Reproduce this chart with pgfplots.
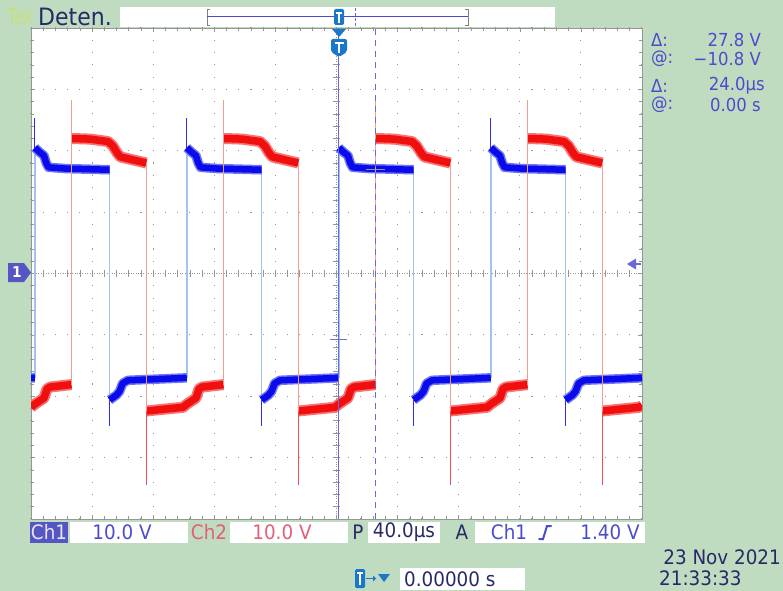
\documentclass[border=0pt]{standalone}
\usepackage{fontspec}
\setmainfont{DejaVu Sans}[FakeStretch=0.92]
\usepackage{graphicx}
\usepackage{pgfplots}
\usepackage{pgfplotstable}
\pgfplotsset{compat=1.18}
\definecolor{scrgreen}{RGB}{192,220,192}
\definecolor{gratgray}{RGB}{150,150,150}
\definecolor{tekyellow}{RGB}{200,224,120}
\definecolor{navy}{RGB}{40,40,105}
\definecolor{readblue}{RGB}{75,75,205}
\definecolor{chonebox}{RGB}{85,85,195}
\definecolor{chtwo}{RGB}{225,95,120}
\definecolor{wblue}{RGB}{10,10,235}
\definecolor{wbluefr}{RGB}{110,120,245}
\definecolor{wblueedge}{RGB}{160,195,240}
\definecolor{wred}{RGB}{240,15,15}
\definecolor{wredfr}{RGB}{250,115,115}
\definecolor{wrededge}{RGB}{238,160,140}
\definecolor{cursorc}{RGB}{105,105,215}
\definecolor{trigblue}{RGB}{25,120,200}

% Ch1 (blue) noisy band: time in us, volts
\pgfplotstableread{
t v
-200 -17.0
-197.5 -17.0
-197.5 nan
-197.5 20.5
-194.5 19.8
-191.5 19.2
-190 18.0
-188.5 17.3
-177.5 17.1
-148.5 16.9
-148.5 nan
-148.5 -20.6
-144 -19.8
-142 -19.2
-140 -17.9
-136.5 -17.4
-98 -17.0
-98 nan
-98 20.5
-95 19.8
-92 19.2
-90.5 18.0
-89 17.3
-78 17.1
-49 16.9
-49 nan
-49 -20.6
-44.5 -19.8
-42.5 -19.2
-40.5 -17.9
-37 -17.4
1.5 -17.0
1.5 nan
1.5 20.5
4.5 19.8
7.5 19.2
9 18.0
10.5 17.3
21.5 17.1
50.5 16.9
50.5 nan
50.5 -20.6
55 -19.8
57 -19.2
59 -17.9
62.5 -17.4
101 -17.0
101 nan
101 20.5
104 19.8
107 19.2
108.5 18.0
110 17.3
121 17.1
150 16.9
150 nan
150 -20.6
154.5 -19.8
156.5 -19.2
158.5 -17.9
162 -17.4
200 -17.0
}\bluebandtab

% Ch1 edges (fast transitions, drawn faint)
\pgfplotstableread{
t v
-197.5 -17.0
-197.5 20.5
-197.5 nan
-148.5 16.9
-148.5 -20.6
-148.5 nan
-98 -17.0
-98 20.5
-98 nan
-49 16.9
-49 -20.6
-49 nan
1.5 -17.0
1.5 20.5
1.5 nan
50.5 16.9
50.5 -20.6
50.5 nan
101 -17.0
101 20.5
101 nan
150 16.9
150 -20.6
}\blueedgetab

% Ch1 overshoot spikes
\pgfplotstableread{
t v
-197.5 20.5
-197.5 25.3
-197.5 nan
-148.5 -20.6
-148.5 -24.8
-148.5 nan
-98 20.5
-98 25.3
-98 nan
-49 -20.6
-49 -24.8
-49 nan
1.5 20.5
1.5 25.3
1.5 nan
50.5 -20.6
50.5 -24.8
50.5 nan
101 20.5
101 25.3
101 nan
150 -20.6
150 -24.8
}\bluespiketab

% Ch2 (red) noisy band
\pgfplotstableread{
t v
-200 -21.8
-197 -21.2
-191.5 -20.3
-189.5 -18.8
-187.5 -18.5
-173.5 -18.1
-173.5 nan
-173.5 22.0
-161.5 21.9
-149.5 21.5
-146.5 20.8
-143.5 19.6
-141.5 19.0
-124.5 18.0
-124.5 nan
-124.5 -22.4
-112.5 -22.1
-100.5 -21.8
-97.5 -21.2
-92 -20.3
-90 -18.8
-88 -18.5
-74 -18.1
-74 nan
-74 22.0
-62 21.9
-50 21.5
-47 20.8
-44 19.6
-42 19.0
-25 18.0
-25 nan
-25 -22.4
-13 -22.1
-1 -21.8
2 -21.2
7.5 -20.3
9.5 -18.8
11.5 -18.5
25.5 -18.1
25.5 nan
25.5 22.0
37.5 21.9
49.5 21.5
52.5 20.8
55.5 19.6
57.5 19.0
74.5 18.0
74.5 nan
74.5 -22.4
86.5 -22.1
98.5 -21.8
101.5 -21.2
107 -20.3
109 -18.8
111 -18.5
125 -18.1
125 nan
125 22.0
137 21.9
149 21.5
152 20.8
155 19.6
157 19.0
174 18.0
174 nan
174 -22.4
186 -22.1
198 -21.8
200 -21.5
}\redbandtab

% Ch2 edges incl. positive overshoot
\pgfplotstableread{
t v
-173.5 -18.1
-173.5 28.3
-173.5 nan
-124.5 18.0
-124.5 -22.4
-124.5 nan
-74 -18.1
-74 28.3
-74 nan
-25 18.0
-25 -22.4
-25 nan
25.5 -18.1
25.5 28.3
25.5 nan
74.5 18.0
74.5 -22.4
74.5 nan
125 -18.1
125 28.3
125 nan
174 18.0
174 -22.4
}\rededgetab

% Ch2 negative overshoot spikes
\pgfplotstableread{
t v
-124.5 -22.4
-124.5 -34.4
-124.5 nan
-25 -22.4
-25 -34.4
-25 nan
74.5 -22.4
74.5 -34.4
74.5 nan
174 -22.4
174 -34.4
}\redspiketab

\begin{document}
\begin{tikzpicture}
\begin{scope}[x=1bp,y=-1bp]
  % screen background
  \fill[scrgreen] (0,0) rectangle (783,591);
  % top bar
  \fill[white] (120,7) rectangle (555,27);
  \node[anchor=west, inner sep=0pt, text=tekyellow, font=\fontsize{22}{22}\selectfont] at (7,16.5) {\scalebox{0.78}[1]{Tek}};
  \node[anchor=west, inner sep=0pt, text=navy, font=\fontsize{24}{24}\selectfont] at (38,16.5) {Deten.};
  \draw[gray, line width=0.8bp] (210,9) -- (207,9) -- (207,25) -- (210,25);
  \draw[gray, line width=0.8bp] (465,9) -- (468,9) -- (468,25) -- (465,25);
  \draw[readblue, line width=1bp] (207,16.5) -- (468,16.5);
  \draw[cursorc, line width=1bp, dash pattern=on 3bp off 2bp] (355,8) -- (355,26);
  \fill[trigblue, rounded corners=1.5bp] (334,9) rectangle (344,25);
  \fill[white] (336,12) rectangle (342,14);
  \fill[white] (338.2,12) rectangle (339.8,23);
  % right readouts
  \begin{scope}[every node/.style={inner sep=0pt, text=readblue, font=\fontsize{18}{18}\selectfont}]
    \node[anchor=west] at (651,40) {Δ:};
    \node[anchor=east] at (761,40) {27.8 V};
    \node[anchor=west] at (651,59) {@:};
    \node[anchor=east] at (761,59) {−10.8 V};
    \node[anchor=west] at (651,86) {Δ:};
    \node[anchor=east] at (765,86) {24.0µs};
    \node[anchor=west] at (651,105) {@:};
    \node[anchor=east] at (761,105) {0.00 s};
  \end{scope}
  % bottom bar
  \fill[chonebox] (30,522) rectangle (68,543);
  \fill[white] (70,522) rectangle (188,543);
  \fill[white] (230,522) rectangle (348,543);
  \fill[white] (368,522) rectangle (440,543);
  \fill[white] (475,522) rectangle (645,543);
  \fill[white] (400,568) rectangle (525,590);
  \begin{scope}[every node/.style={inner sep=0pt, font=\fontsize{20}{20}\selectfont}]
    \node[text=white!85!chonebox] at (49,532.5) {Ch1};
    \node[text=readblue] at (122,532.5) {10.0 V};
    \node[text=chtwo] at (209,532.5) {Ch2};
    \node[text=chtwo] at (282,532.5) {10.0 V};
    \node[text=navy] at (358,532.5) {P};
    \node[text=navy] at (404,532.5) {40.0µs};
    \node[text=navy] at (462,532.5) {A};
    \node[text=readblue] at (509,532.5) {Ch1};
    \node[text=readblue] at (610,532.5) {1.40 V};
    \node[text=navy, anchor=west] at (404,579) {0.00000 s};
    \node[text=navy, anchor=east] at (781,557) {23 Nov 2021};
    \node[text=navy, anchor=west] at (659,578) {21:33:33};
  \end{scope}
  \draw[readblue, line width=2bp, line cap=round] (539,539) -- (543,539) -- (547,526) -- (551,526);
  % T -> marker bottom
  \fill[trigblue, rounded corners=1.5bp] (355,569) rectangle (365,588);
  \fill[white] (357,572) rectangle (363,574);
  \fill[white] (359.2,572) rectangle (360.8,585);
  \draw[trigblue, line width=1bp] (366,578.5) -- (373,578.5);
  \fill[trigblue] (373,575.5) -- (376,578.5) -- (373,581.5) -- cycle;
  \fill[trigblue] (378,574) -- (390,574) -- (384,582) -- cycle;
\end{scope}

\begin{axis}[
  at={(31bp,-519bp)}, anchor=south west,
  scale only axis, width=611bp, height=491bp,
  xmin=-200, xmax=200, ymin=-40, ymax=40,
  axis background/.style={fill=white},
  axis line style={draw=gratgray, line width=0.8bp},
  xtick={-200,-160,...,200}, ytick={-40,-30,...,40},
  minor x tick num=4, minor y tick num=4,
  tick align=inside, major tick length=4bp, minor tick length=3bp,
  tick style={draw=gratgray, line width=0.6bp},
  xticklabels={}, yticklabels={},
  grid=major,
  x grid style={draw=gratgray, line width=1.1bp, dash pattern=on 1.1bp off 11.175bp, dash phase=0.55bp},
  y grid style={draw=gratgray, line width=1.1bp, dash pattern=on 1.1bp off 11.12bp, dash phase=0.55bp},
  unbounded coords=jump,
  clip=true,
]
  % center crosshair ticks
  \addplot[gratgray, line width=0.8bp, dash pattern=on 1bp off 1.44bp] coordinates {(-200,0) (200,0)};
  \addplot[gratgray, line width=0.8bp, dash pattern=on 1bp off 1.455bp] coordinates {(0,-40) (0,40)};
  \pgfplotsinvokeforeach{-25,...,25}{
    \draw[gratgray, line width=0.7bp] (axis cs:#1*8,-0.5) -- (axis cs:#1*8,0.5);
  }
  \pgfplotsinvokeforeach{-20,...,20}{
    \draw[gratgray, line width=0.7bp] (axis cs:-2,#1*2) -- (axis cs:2,#1*2);
  }
  % waveforms
  \addplot[wblueedge, line width=1.5bp] table[x=t,y=v] {\blueedgetab};
  \addplot[wbluefr, line width=9.5bp, line join=round] table[x=t,y=v] {\bluebandtab};
  \addplot[wblue, line width=6.5bp, line join=round] table[x=t,y=v] {\bluebandtab};
  \addplot[wblue!85!white, line width=1.3bp] table[x=t,y=v] {\bluespiketab};
  \addplot[wredfr, line width=11bp, line join=round] table[x=t,y=v] {\redbandtab};
  \addplot[wred, line width=7.5bp, line join=round] table[x=t,y=v] {\redbandtab};
  \addplot[wrededge, line width=1.5bp] table[x=t,y=v] {\rededgetab};
  \addplot[wred!75!white, line width=1.3bp] table[x=t,y=v] {\redspiketab};
  % cursors
  \addplot[cursorc, line width=1.3bp] coordinates {(1.5,-40) (1.5,40)};
  \addplot[cursorc, line width=1.3bp, dash pattern=on 6bp off 5bp] coordinates {(25.5,-40) (25.5,40)};
  \addplot[cursorc!70!gray, line width=1bp] coordinates {(-4,-10.8) (7,-10.8)};
  \addplot[gray!80, line width=1bp] coordinates {(19,17.0) (32,17.0)};
\end{axis}

\begin{scope}[x=1bp,y=-1bp]
  % trigger position marker at top of graticule
  \fill[trigblue] (332,29) -- (346,29) -- (339,37) -- cycle;
  \fill[trigblue, rounded corners=2bp] (331,39) -- (347,39) -- (347,52) -- (339,57) -- (331,52) -- cycle;
  \fill[white] (334.5,42) rectangle (343.5,44.5);
  \fill[white] (337.8,42) rectangle (340.2,53);
  % channel 1 ground marker
  \fill[chonebox] (8,263) -- (24,263) -- (31,272.5) -- (24,282) -- (8,282) -- cycle;
  \node[text=white, inner sep=0pt, font=\bfseries\fontsize{15}{15}\selectfont] at (17,272.5) {1};
  % trigger level marker
  \fill[cursorc] (627,264) -- (636,258.5) -- (636,269.5) -- cycle;
  \draw[cursorc, line width=1.2bp] (636,264) -- (641,264);
\end{scope}
\end{tikzpicture}
\end{document}
